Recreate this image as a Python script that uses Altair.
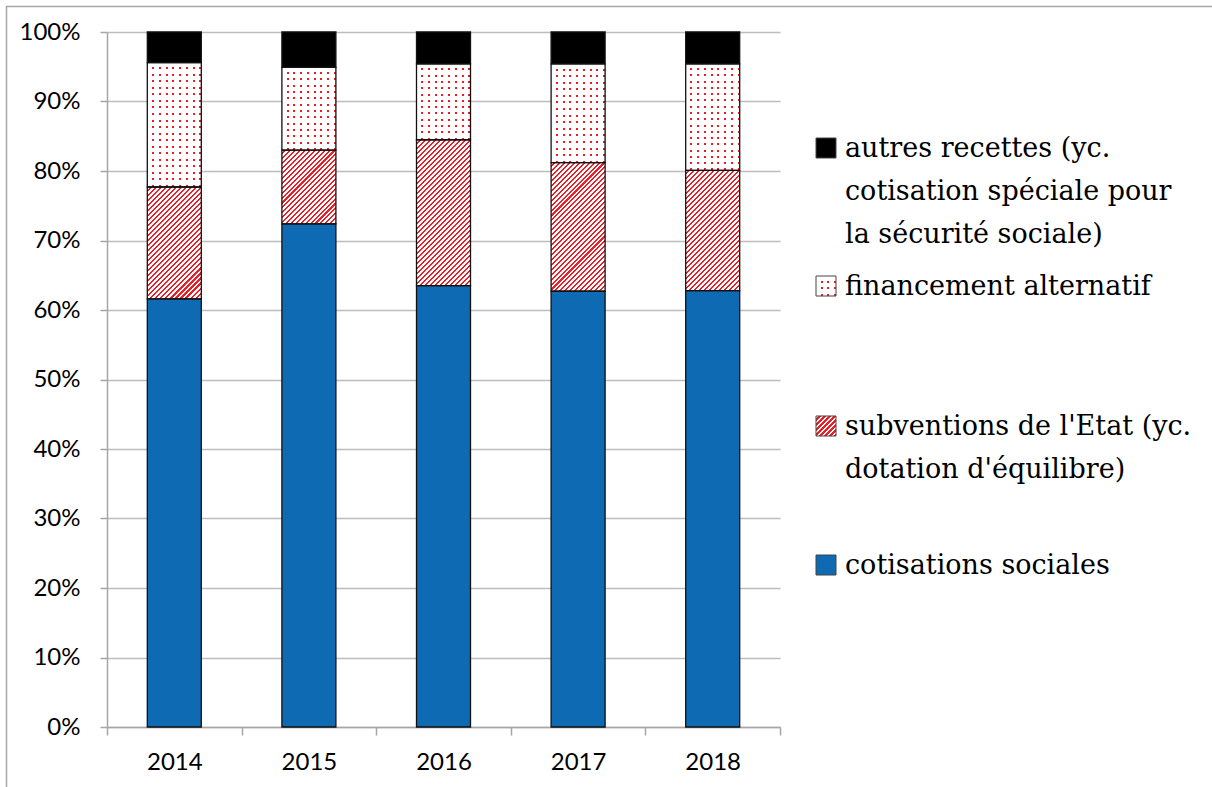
import altair as alt
import pandas as pd

# ---------------- data ----------------
years = ["2014", "2015", "2016", "2017", "2018"]
cotisations = [61.6, 72.4, 63.5, 62.7, 62.8]
subventions = [16.1, 10.6, 21.0, 18.5, 17.3]
financement = [17.9, 11.9, 10.9, 14.2, 15.3]
autres = [4.4, 5.1, 4.6, 4.6, 4.6]

series_keys = ["cot", "sub", "fin", "aut"]
legend_cot = ["cotisations sociales"]
legend_sub = ["subventions de l'Etat (yc.", "dotation d'équilibre)"]
legend_fin = ["financement alternatif"]
legend_aut = ["autres recettes (yc.", "cotisation spéciale pour", "la sécurité sociale)"]
y_ticks = [0, 10, 20, 30, 40, 50, 60, 70, 80, 90, 100]

rows = []
for i, yr in enumerate(years):
    for order, (key, vals) in enumerate(zip(series_keys, [cotisations, subventions, financement, autres])):
        rows.append({"year": yr, "series": key, "order": order, "value": vals[i]})
df = pd.DataFrame(rows)
one = pd.DataFrame({"k": [0]})

# ---------------- layout / style ----------------
W, H = 673, 695
BAR_W = 54
PX = H / 100.0
BLUE = "#0d6ab3"
RED = "#ee1c25"
WHITE = "#ffffff"
CLEAR = "rgba(255,255,255,0)"
GRID = "#bdbdbd"
AXIS = "#a6a6a6"


def stripes(n, frac, on, off):
    stops = [{"offset": 0, "color": off}]
    for k in range(n):
        a = round((k + 1 - frac) / n, 5)
        b = round((k + 1) / n, 5)
        stops += [{"offset": a, "color": off}, {"offset": a, "color": on}, {"offset": b, "color": on}]
        if k < n - 1:
            stops.append({"offset": b, "color": off})
    return stops


def hatch(w, h, period=5.0, red_px=2.1):
    n = max(2, round((w + h) / period))
    frac = red_px / ((w + h) / n)
    d = w * w + h * h
    return {"gradient": "linear", "x1": 0, "y1": 0,
            "x2": round((w + h) * w / d, 5), "y2": round((w + h) * h / d, 5),
            "stops": stripes(n, frac, RED, WHITE)}


def dots_cols(w, period=6.6, red_px=2.0):
    n = max(2, round(w / period))
    frac = red_px / (w / n)
    return {"gradient": "linear", "x1": 0, "y1": 0, "x2": 1, "y2": 0,
            "stops": stripes(n, frac, RED, WHITE)}


def dots_rows(h, period=6.4, red_px=2.0):
    n = max(2, round(h / period))
    frac = red_px / (h / n)
    return {"gradient": "linear", "x1": 0, "y1": 0, "x2": 0, "y2": 1,
            "stops": stripes(n, frac, CLEAR, WHITE)}


x_axis = alt.Axis(labelAngle=0, tickBand="extent", grid=False, domainColor=AXIS,
                  domainWidth=1.5, tickColor=AXIS, tickWidth=1.5, tickSize=8,
                  labelFont="Lato", labelFontSize=24, labelColor="black",
                  labelPadding=15, title=None)
y_axis = alt.Axis(values=y_ticks, labelExpr="datum.value + '%'", grid=True,
                  gridColor=GRID, gridWidth=1.5, domainColor=AXIS, domainWidth=1.5,
                  tickColor=AXIS, tickWidth=1.5, tickSize=7, labelFont="Lato",
                  labelFontSize=24, labelColor="black", labelPadding=20, title=None)

enc = dict(
    x=alt.X("year:N", sort=years, scale=alt.Scale(paddingInner=0, paddingOuter=0), axis=x_axis, title=None),
    y=alt.Y("y0:Q", scale=alt.Scale(domain=[0, 100], nice=False), axis=y_axis, title=None),
    y2=alt.Y2("y1:Q"),
)


def base():
    return alt.Chart(df).transform_stack(
        stack="value", groupby=["year"], as_=["y0", "y1"],
        sort=[alt.SortField("order", order="ascending")])


layers = []
layers.append(base().transform_filter("datum.series == 'cot'").mark_bar(width=BAR_W, fill=BLUE).encode(**enc))
layers.append(base().transform_filter("datum.series == 'aut'").mark_bar(width=BAR_W, fill="#000000").encode(**enc))
layers.append(base().transform_filter("datum.series == 'fin'").mark_bar(width=BAR_W, fill=dots_cols(BAR_W)).encode(**enc))
for i, yr in enumerate(years):
    hs = subventions[i] * PX
    hf = financement[i] * PX
    layers.append(base().transform_filter(f"datum.series == 'sub' && datum.year == '{yr}'")
                  .mark_bar(width=BAR_W, fill=hatch(BAR_W, hs)).encode(**enc))
    layers.append(base().transform_filter(f"datum.series == 'fin' && datum.year == '{yr}'")
                  .mark_bar(width=BAR_W, fill=dots_rows(hf)).encode(**enc))
# outlines
layers.append(base().mark_bar(width=BAR_W, fillOpacity=0, stroke="#111111", strokeWidth=1.3).encode(**enc))

# ---------------- legend ----------------
LX0 = 816 - 107
LX1 = 836 - 107
TX = 845 - 107
SYM = 20
entries = [
    (legend_aut, 157 - 32, {"fill": "#000000"}, None),
    (legend_fin, 295 - 32, {"fill": dots_cols(SYM, 7)}, dots_rows(SYM, 7)),
    (legend_sub, 435 - 32, {"fill": hatch(SYM, SYM, 5.0)}, None),
    (legend_cot, 574 - 32, {"fill": BLUE}, None),
]
for lines, base_y, fillspec, overlay in entries:
    y0 = base_y - SYM + 1
    y1 = base_y + 1
    layers.append(alt.Chart(one).mark_rect(**fillspec).encode(
        x=alt.value(LX0), x2=alt.value(LX1), y=alt.value(y0), y2=alt.value(y1)))
    if overlay is not None:
        layers.append(alt.Chart(one).mark_rect(fill=overlay).encode(
            x=alt.value(LX0), x2=alt.value(LX1), y=alt.value(y0), y2=alt.value(y1)))
    layers.append(alt.Chart(one).mark_rect(fillOpacity=0, stroke="#444444", strokeWidth=1).encode(
        x=alt.value(LX0), x2=alt.value(LX1), y=alt.value(y0), y2=alt.value(y1)))
    layers.append(alt.Chart(one).mark_text(
        align="left", baseline="alphabetic", font="DejaVu Serif", fontSize=27,
        lineHeight=43, color="black").encode(
        x=alt.value(TX), y=alt.value(base_y), text=alt.value(lines)))

# outer border (top and left edges)
layers.append(alt.Chart(one).mark_rule(color=AXIS, strokeWidth=1.5).encode(
    x=alt.value(6 - 107), x2=alt.value(1212 - 107), y=alt.value(6.5 - 32)))
layers.append(alt.Chart(one).mark_rule(color=AXIS, strokeWidth=1.5).encode(
    x=alt.value(6.5 - 107), y=alt.value(6 - 32), y2=alt.value(787 - 32)))

chart = alt.layer(*layers).properties(
    width=W, height=H,
    autosize=alt.AutoSizeParams(type="none"),
    padding={"left": 107, "top": 32, "right": 1212 - 107 - W, "bottom": 787 - 32 - H},
    background="white",
).configure_view(stroke=None)

chart.save("out.html", embed_options={"renderer": "svg", "actions": False})
